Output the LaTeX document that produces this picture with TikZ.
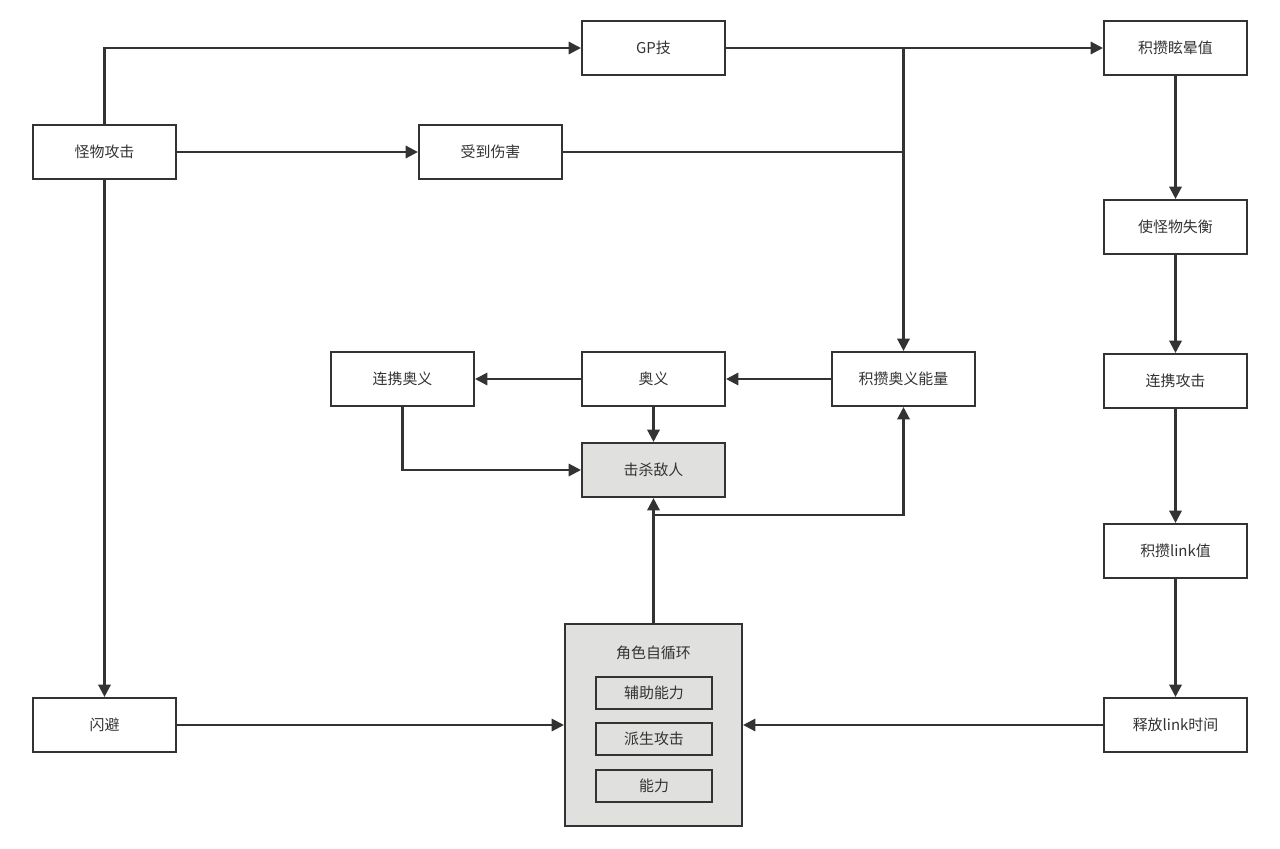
\documentclass[tikz,border=0pt]{standalone}
\usepackage{fontspec}
\setmainfont{Noto Sans CJK SC}
\usetikzlibrary{arrows.meta}
\definecolor{linegray}{HTML}{333333}
\definecolor{boxgray}{HTML}{E0E1DF}

\begin{document}
\begin{tikzpicture}[x=0.02cm,y=-0.02cm,
  box/.style={draw=linegray,line width=1.2pt,fill=white,minimum width=2.86cm,minimum height=1.08cm,inner sep=0pt,text=linegray,font=\fontsize{8.5}{10}\selectfont},
  greybox/.style={box,fill=boxgray},
  subbox/.style={box,minimum width=2.32cm,minimum height=0.64cm,fill=boxgray},
  link/.style={draw=linegray,line width=1.3pt},
  arr/.style={link,-{Triangle[length=7pt,width=7pt]}}]
\useasboundingbox (0,0) rectangle (1280,848);
% LEFT COLUMN
\node [box] (monster) at (104.5,152) {怪物攻击};
\node [box] (dodge) at (104.5,725) {闪避};
% TOP ROW
\node [box] (gp) at (653.5,48) {GP技};
\node [box] (hurt) at (490.5,152) {受到伤害};
% OUGI ROW
\node [box] (linkougi) at (402.5,379) {连携奥义};
\node [box] (ougi) at (653.5,379) {奥义};
\node [box] (energy) at (903.5,379) {积攒奥义能量};
\node [greybox] (kill) at (653.5,470) {击杀敌人};
% RIGHT COLUMN
\node [box] (stun) at (1175.5,48) {积攒眩晕值};
\node [box] (unbal) at (1175.5,227) {使怪物失衡};
\node [box] (linkatk) at (1175.5,381) {连携攻击};
\node [box] (linkval) at (1175.5,551) {积攒link值};
\node [box] (release) at (1175.5,725) {释放link时间};
% CHARACTER LOOP
\node [greybox,minimum width=3.54cm,minimum height=4.04cm] (cycle) at (653.5,725) {};
\node [text=linegray,font=\fontsize{8.5}{10}\selectfont] (cycletitle) at (653.5,653) {角色自循环};
\node [subbox] (assist) at (654,693) {辅助能力};
\node [subbox] (derive) at (654,739) {派生攻击};
\node [subbox] (skill) at (654,786) {能力};
% JUNCTIONS
\coordinate (jtop) at (903.5,48);
\coordinate (jmid) at (903.5,152);
\coordinate (jkill) at (653.5,515);
% CONNECTORS
\draw [arr] (monster.north) |- (gp.west);
\draw [arr] (monster) -- (hurt);
\draw [arr] (monster) -- (dodge);
\draw [arr] (gp) -- (stun);
\draw [link] (hurt) -- (jmid);
\draw [arr] (jtop) -- (energy.north);
\draw [arr] (energy) -- (ougi);
\draw [arr] (ougi) -- (linkougi);
\draw [arr] (ougi) -- (kill);
\draw [arr] (linkougi.south) |- (kill.west);
\draw [arr] (cycle) -- (kill);
\draw [arr] (jkill) -| (energy.south);
\draw [arr] (stun) -- (unbal);
\draw [arr] (unbal) -- (linkatk);
\draw [arr] (linkatk) -- (linkval);
\draw [arr] (linkval) -- (release);
\draw [arr] (release) -- (cycle);
\draw [arr] (dodge) -- (cycle);
\end{tikzpicture}
\end{document}
